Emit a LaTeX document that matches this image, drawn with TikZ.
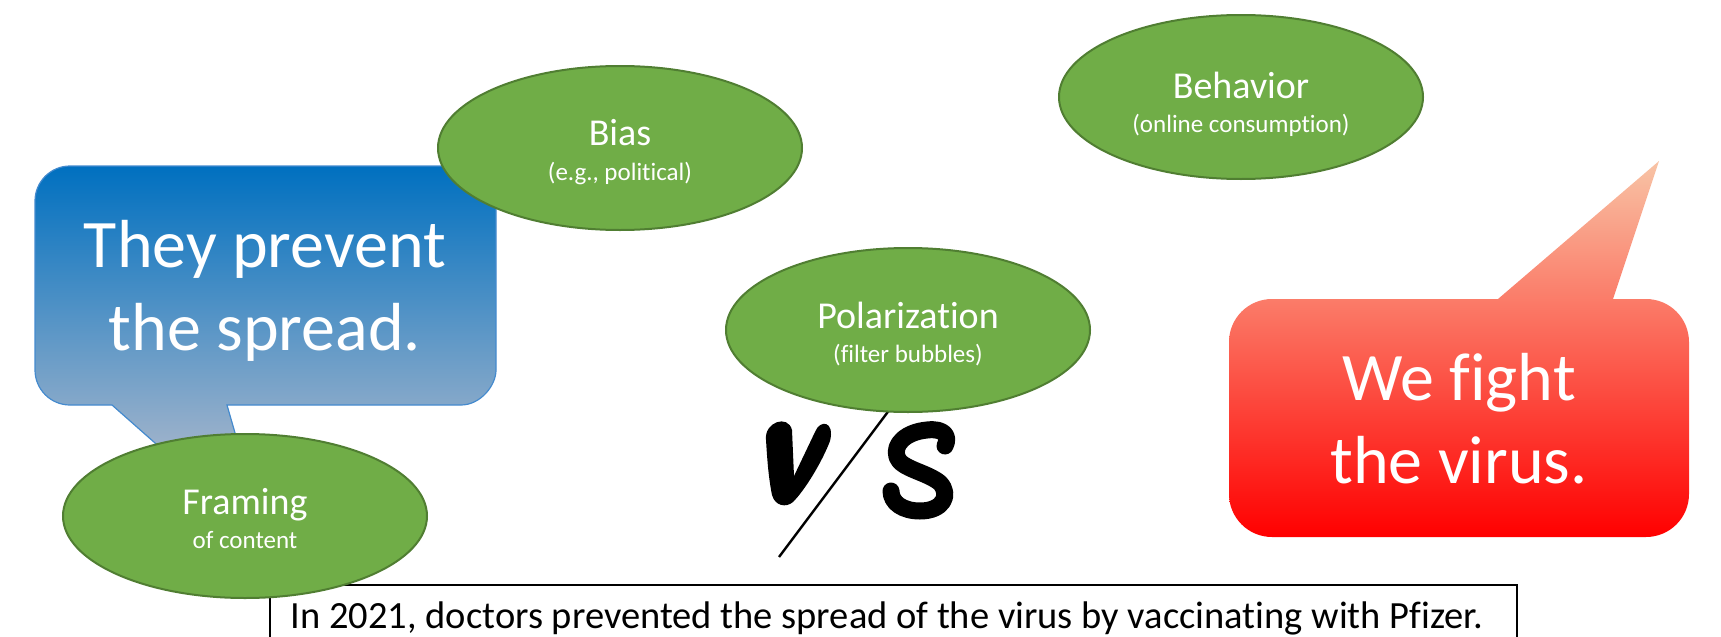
\documentclass[tikz,border=0pt]{standalone}
\usepackage{fontspec}
\setmainfont{Carlito}[Ligatures={NoCommon}]
\usetikzlibrary{shapes.geometric}

\definecolor{leafFill}{RGB}{112,173,71}
\definecolor{leafLine}{RGB}{80,126,50}
\definecolor{skyTop}{RGB}{0,112,192}
\definecolor{skyBot}{RGB}{157,178,203}
\definecolor{skyLine}{RGB}{68,138,206}
\definecolor{fireTop}{RGB}{248,196,166}
\definecolor{fireBot}{RGB}{255,0,0}

% outline of the blue speech bubble (tail pointing down-left)
\newcommand\BlueBubblePath{(227,405) -- (461,405) .. controls (480.3,405) and (496,385.7) .. (496,370)
  -- (496,201) .. controls (496,181.7) and (480.3,166) .. (461,166)
  -- (70,166) .. controls (50.7,166) and (35,181.7) .. (35,201)
  -- (35,370) .. controls (35,389.3) and (50.7,405) .. (70,405)
  -- (112,405) -- (266,541) -- cycle}

% outline of the red speech bubble (tail pointing up-right)
\newcommand\RedBubblePath{(1272,299) -- (1498,299) -- (1659,161) -- (1613,299) -- (1646,299)
  .. controls (1669.75,299) and (1689,318.25) .. (1689,342)
  -- (1689,494) .. controls (1689,517.75) and (1669.75,537) .. (1646,537)
  -- (1272,537) .. controls (1248.25,537) and (1229,517.75) .. (1229,494)
  -- (1229,342) .. controls (1229,318.25) and (1248.25,299) .. (1272,299) -- cycle}

\begin{document}
\begin{tikzpicture}[x=1pt,y=-1pt,
  bubble/.style={ellipse, draw=leafLine, fill=leafFill, line width=2pt,
    minimum width=364pt, minimum height=164pt, inner sep=0pt},
  ttl/.style={text=white, anchor=base, inner sep=0pt, font=\fontsize{38}{46}\selectfont},
  sub/.style={text=white, anchor=base, inner sep=0pt, font=\fontsize{25}{30}\selectfont},
  bigtxt/.style={text=white, anchor=base, inner sep=0pt, font=\fontsize{68}{80}\selectfont},
  claimtxt/.style={text=black, anchor=base, inner sep=0pt, font=\fontsize{38.5}{46}\selectfont},
  boxline/.style={draw=black, line width=2pt},
  slashline/.style={draw=black, line width=2.4pt}]
\useasboundingbox (0,0) rectangle (1721,637);
\clip (0,0) rectangle (1721,637);

% blue bubble: gradient fill clipped to the outline, then the outline
\begin{scope}
  \clip \BlueBubblePath;
  \shade[top color=skyTop, bottom color=skyBot] (30,166) rectangle (500,448);
  \fill[skyBot] (30,447) rectangle (500,560);
\end{scope}
\draw[skyLine, line width=1.2pt, line join=miter] \BlueBubblePath;

% red bubble
\shade[top color=fireTop, bottom color=fireBot] \RedBubblePath;

% slash of the "v/s" sign
\coordinate (slashTop) at (890,409);
\coordinate (slashEnd) at (779,557);
\draw[slashline] (slashTop) -- (slashEnd);

% letter v
\fill[black] (766,440) .. controls (764,422) and (788,414) .. (792,430)
  -- (794,476) -- (815,432) .. controls (820,419) and (835,421) .. (830,441)
  .. controls (822,462) and (805,490) .. (793,502)
  .. controls (786,508) and (775,506) .. (772,495)
  .. controls (768,475) and (767,455) .. (766,440) -- cycle;

% letter s, a slanted brush stroke
\draw[black, line width=17pt, line cap=round, line join=round]
  (945,446) .. controls (950,436) and (944,428) .. (927,430)
  .. controls (906,432) and (893,444) .. (897,457)
  .. controls (901,469) and (927,472) .. (940,483)
  .. controls (951,495) and (943,511) .. (920,511)
  .. controls (903,511) and (891,503) .. (891,491);

% statement box along the bottom edge
\draw[boxline] (270,650) -- (270,585) -- (1517,585) -- (1517,650);
\node[claimtxt] (claim) at (887,628) {In 2021, doctors prevented the spread of the virus by vaccinating with Pfizer.};

% green ellipses
\node[bubble] (bias) at (620,148) {};
\node[ttl] (biasT) at (620,145) {Bias};
\node[sub] (biasS) at (620,180) {(e.g., political)};

\node[bubble] (behav) at (1241,97) {};
\node[ttl] (behavT) at (1241,98) {Behavior};
\node[sub] (behavS) at (1241,132) {(online consumption)};

\node[bubble] (polar) at (908,330) {};
\node[ttl] (polarT) at (908,328) {Polarization};
\node[sub] (polarS) at (908,362) {(filter bubbles)};

\node[bubble] (frame) at (245,516) {};
\node[ttl] (frameT) at (245,514) {Framing};
\node[sub] (frameS) at (245,548) {of content};

% bubble texts
\node[bigtxt] (blueA) at (265,267) {They prevent};
\node[bigtxt] (blueB) at (265,350) {the spread.};
\node[bigtxt] (redA) at (1459,400) {We fight};
\node[bigtxt] (redB) at (1459,483) {the virus.};
\end{tikzpicture}
\end{document}
